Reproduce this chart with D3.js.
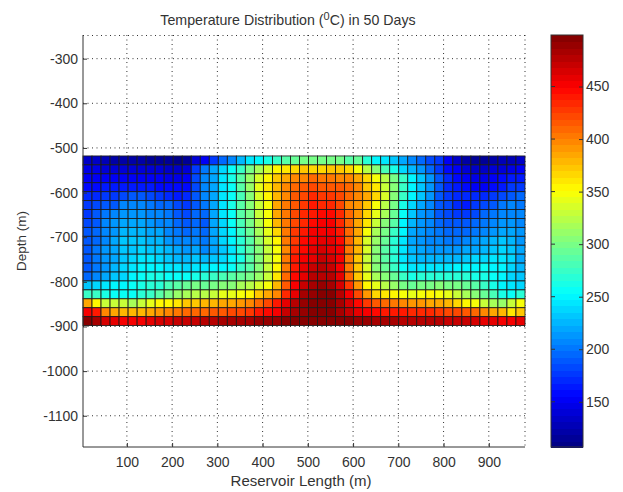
<!DOCTYPE html>
<html>
<head>
<meta charset="utf-8">
<script src="https://cdn.jsdelivr.net/npm/d3@7"></script>
<style>
  body { margin: 0; background: #fff; }
  text { font-family: "Liberation Sans", Arial, sans-serif; fill: #333; }
  .domain { stroke: #333; }
</style>
</head>
<body>
<div id="chart"></div>
<script>
// Temperature per cell, top row first, left to right (49 columns).
const row01 = [135,132,128,125,122,122,120,118,118,114,112,115,140,150,175,197,205,228,245,252,264,278,288,295,298,300,300,297,297,290,293,272,250,245,235,220,205,195,185,175,150,135,125,118,118,125,128,130,135];
const row02 = [148,145,142,140,140,140,140,138,138,135,135,138,180,200,218,240,256,276,298,316,336,354,362,366,372,368,370,372,372,368,350,322,308,280,265,240,228,215,195,175,162,150,140,135,135,142,142,146,150];
const row03 = [155,155,152,150,150,152,152,150,150,148,146,150,185,205,222,244,264,285,312,336,356,376,385,396,400,408,405,402,400,396,385,365,348,322,300,276,248,233,213,190,172,160,150,145,145,152,160,165,168];
const row04 = [160,162,165,165,165,168,168,165,162,160,158,160,185,205,222,242,260,285,310,340,360,382,396,408,416,422,418,415,415,408,396,376,360,330,305,276,248,230,213,190,172,165,160,155,155,160,168,175,178];
const row05 = [170,172,178,180,185,188,190,182,178,172,168,170,188,205,222,242,258,282,308,338,356,382,400,414,424,432,430,428,422,412,400,385,365,335,305,275,250,230,213,190,175,172,170,170,170,178,185,192,197];
const row06 = [178,182,188,192,205,205,205,200,197,195,182,175,190,200,222,244,262,288,305,328,346,385,405,418,430,438,436,436,424,400,390,372,348,322,302,264,240,218,205,190,182,170,168,176,184,192,200,205,202];
const row07 = [180,188,200,205,213,213,213,207,205,200,190,182,195,197,222,242,256,285,300,328,350,384,405,420,434,442,448,444,432,408,392,368,340,318,294,258,230,216,206,192,186,178,178,186,194,200,206,210,206];
const row08 = [185,192,205,212,220,220,218,212,210,205,195,190,198,190,218,240,254,282,297,325,347,378,405,422,436,446,452,450,436,408,388,360,328,308,285,252,224,214,206,196,192,188,188,195,202,208,214,215,208];
const row09 = [188,195,208,215,225,228,228,222,218,210,202,196,202,195,218,238,252,276,293,316,342,368,405,426,440,450,456,454,440,408,384,346,316,298,276,248,220,212,206,200,198,196,198,203,210,216,222,222,212];
const row10 = [188,198,210,218,230,232,232,228,224,216,208,205,210,202,218,236,250,272,290,312,338,358,402,430,444,454,460,458,444,408,382,338,312,294,272,246,220,212,208,205,204,204,206,212,218,224,230,228,216];
const row11 = [188,200,212,220,232,235,238,235,232,225,218,215,220,210,222,235,246,268,286,308,332,350,400,434,448,458,464,460,450,404,378,336,308,290,268,244,224,218,215,214,214,216,218,222,228,234,236,232,218];
const row12 = [188,200,212,222,234,240,245,242,240,235,228,225,230,225,232,240,250,266,285,305,328,350,402,438,452,462,470,466,450,404,376,332,305,288,268,246,232,228,226,226,226,228,232,236,240,244,242,236,220];
const row13 = [190,202,214,225,238,245,250,250,250,247,242,240,245,245,250,252,255,274,290,305,328,354,405,442,458,470,475,470,456,406,374,336,308,292,274,254,246,244,244,245,246,248,250,252,254,252,248,240,228];
const row14 = [198,208,222,232,240,250,256,262,262,258,256,256,262,268,275,280,285,293,300,312,332,360,408,448,462,475,480,478,460,412,372,342,318,305,292,275,266,268,268,270,270,270,268,265,262,258,250,240,232];
const row15 = [235,240,245,248,252,255,262,268,272,280,288,295,300,295,300,305,308,316,324,336,350,378,415,455,470,482,488,486,466,430,392,356,340,324,314,302,296,300,302,303,302,298,292,285,276,266,252,244,240];
const row16 = [278,278,262,256,256,258,268,276,285,297,310,318,325,325,332,340,344,350,358,372,386,400,435,462,482,490,496,494,476,450,422,392,368,360,354,350,344,350,354,350,342,332,320,308,295,280,262,256,272];
const row17 = [385,352,332,332,328,320,332,342,352,354,362,372,375,378,378,385,386,392,400,412,422,438,458,478,490,496,499,498,484,464,446,426,416,408,404,400,394,392,388,386,378,368,354,346,332,316,312,332,346];
const row18 = [450,440,400,385,382,378,378,385,392,396,404,408,412,412,414,416,420,424,430,438,446,454,470,482,490,496,499,498,486,474,462,454,448,442,440,438,436,434,432,430,424,420,414,408,400,388,378,364,372];
const row19 = [496,482,465,460,455,456,456,460,463,466,470,474,474,478,478,482,482,485,486,488,490,492,495,498,498,499,499,499,497,494,490,487,485,483,481,480,480,479,478,476,474,472,470,466,462,458,452,450,462];
const tempRows = [row01,row02,row03,row04,row05,row06,row07,row08,row09,row10,row11,row12,row13,row14,row15,row16,row17,row18,row19];

const xTicks = [100,200,300,400,500,600,700,800,900];
const yTicks = [-300,-400,-500,-600,-700,-800,-900,-1000,-1100];
const barTicks = [150,200,250,300,350,400,450];

// axis limits and mesh
const xLimits = [3, 980], yLimits = [-1170, -247], tempLimits = [107, 499];
const meshTop = -518, meshStepY = 20, meshStepX = (xLimits[1] - xLimits[0]) / 49;

const margin = { top: 35, right: 98, bottom: 45, left: 83 },
    width = 525 - margin.left,
    height = 447 - margin.top;

// jet colormap with 64 levels, like matlab
function jet(t) {
    const level = Math.min(63, Math.floor(t * 64));
    const v = (level + 0.5) / 64;
    const ramp = c => Math.max(0, Math.min(1, 1.5 - Math.abs(4 * v - c)));
    return d3.rgb(ramp(3) * 255, ramp(2) * 255, ramp(1) * 255).formatHex();
}
const tempColor = d3.scaleLinear().domain(tempLimits).range([0, 1]).clamp(true);

const svg = d3.select("#chart").append("svg")
    .attr("width", 623)
    .attr("height", 492)
    .style("display", "block");
const g = svg.append("g").attr("transform", `translate(${margin.left},${margin.top})`);

const x = d3.scaleLinear().domain(xLimits).range([0, width]);
const y = d3.scaleLinear().domain(yLimits).range([height, 0]);

// dotted grid and the dotted top and right edges
const dotted = g.append("g")
    .attr("fill", "none")
    .attr("stroke", "#333")
    .attr("stroke-dasharray", "1,3.5");
dotted.selectAll(".gv").data(xTicks).join("line")
    .attr("x1", d => x(d)).attr("x2", d => x(d)).attr("y1", 0).attr("y2", height);
dotted.selectAll(".gh").data(yTicks).join("line")
    .attr("y1", d => y(d)).attr("y2", d => y(d)).attr("x1", 0).attr("x2", width);
dotted.append("line").attr("x1", 0).attr("x2", width).attr("y1", 0.5).attr("y2", 0.5);
dotted.append("line").attr("x1", width).attr("x2", width).attr("y1", 0).attr("y2", height);

// heat cells
tempRows.forEach((row, r) => {
    g.append("g").selectAll("rect").data(row).join("rect")
        .attr("x", (d, i) => x(xLimits[0] + i * meshStepX))
        .attr("y", y(meshTop - r * meshStepY))
        .attr("width", x(xLimits[0] + meshStepX) - x(xLimits[0]))
        .attr("height", y(meshTop - meshStepY) - y(meshTop))
        .attr("fill", d => jet(tempColor(d)))
        .attr("stroke", "#1a1a1a")
        .attr("stroke-width", 0.85);
});

// axes
const xAxis = g.append("g").attr("transform", `translate(0,${height})`)
    .call(d3.axisBottom(x).tickValues(xTicks).tickFormat(d3.format("d")).tickSize(-4).tickPadding(10));
const yAxis = g.append("g")
    .call(d3.axisLeft(y).tickValues(yTicks).tickFormat(d => String(d)).tickSize(-4).tickPadding(5));
xAxis.select(".domain").attr("d", `M0,0H${width}`);
yAxis.select(".domain").attr("d", `M0,0V${height}`);
svg.selectAll("g.tick text").style("font-size", "14px").style("fill", "#333");
xAxis.selectAll(".tick line").attr("stroke", "#333");
yAxis.selectAll(".tick line").attr("stroke", "#333");

// labels
const title = svg.append("text").attr("x", 288).attr("y", 25).attr("text-anchor", "middle").style("font-size", "14.2px");
title.append("tspan").text("Temperature Distribution (");
title.append("tspan").text("0").attr("dy", -5).style("font-size", "11px");
title.append("tspan").text("C) in 50 Days").attr("dy", 5);
svg.append("text").attr("x", 301).attr("y", 486).attr("text-anchor", "middle").style("font-size", "15px")
    .text("Reservoir Length (m)");
svg.append("text").attr("transform", "translate(26,241) rotate(-90)").attr("text-anchor", "middle").style("font-size", "13.5px")
    .text("Depth (m)");

// colorbar, crisp edges and an overlap so the 64 levels show no seams
const barLeft = 551, barWidth = 32;
const bar = svg.append("g").attr("transform", `translate(${barLeft},${margin.top})`);
const barY = d3.scaleLinear().domain(tempLimits).range([height, 0]);
const levels = d3.range(64);
const levelStep = (tempLimits[1] - tempLimits[0]) / 64;
bar.selectAll("rect").data(levels).join("rect")
    .attr("x", 0)
    .attr("width", barWidth)
    .attr("y", d => barY(tempLimits[0] + (d + 1) * levelStep))
    .attr("height", d => barY(tempLimits[0] + d * levelStep) - barY(tempLimits[0] + (d + 1) * levelStep) + 1)
    .attr("fill", d => jet((d + 0.5) / 64))
    .attr("shape-rendering", "crispEdges");
bar.append("rect").attr("width", barWidth).attr("height", height)
    .attr("fill", "none").attr("stroke", "#333");
const barAxis = bar.append("g").attr("transform", `translate(${barWidth},0)`)
    .call(d3.axisRight(barY).tickValues(barTicks).tickFormat(d3.format("d")).tickSize(-4).tickPadding(3));
barAxis.select(".domain").remove();
barAxis.selectAll(".tick line").attr("stroke", "#333");
barAxis.selectAll(".tick text").style("font-size", "14px").style("fill", "#333");
bar.append("g").selectAll("line").data(barTicks).join("line")
    .attr("x1", 0).attr("x2", 4)
    .attr("y1", d => barY(d)).attr("y2", d => barY(d))
    .attr("stroke", "#333");
</script>
</body>
</html>
